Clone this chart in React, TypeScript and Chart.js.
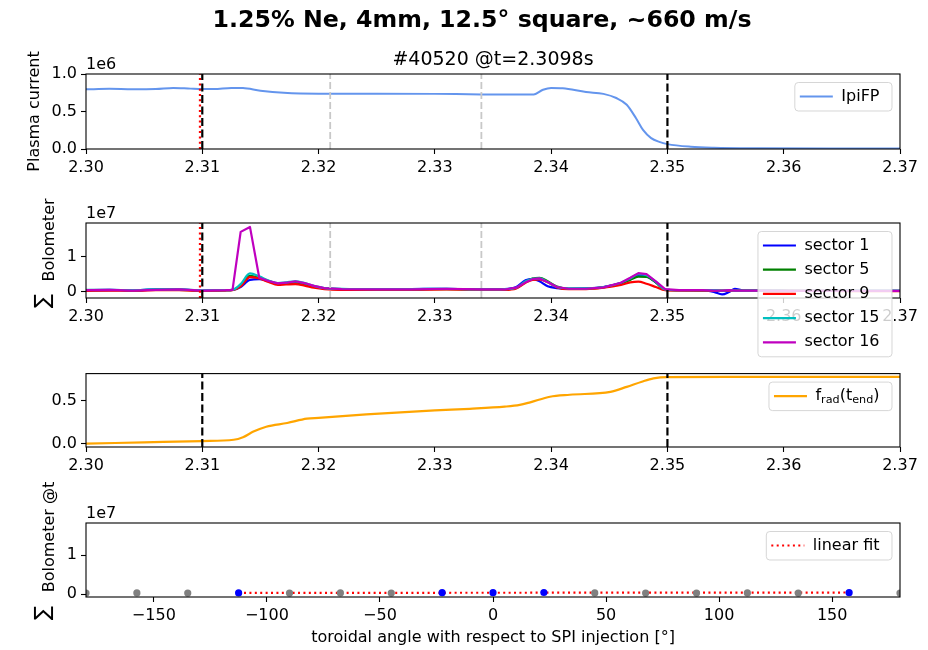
import React, { useEffect, useRef } from "react";
import { Chart, registerables } from "chart.js";

Chart.register(...registerables);

const FONT_FAMILY = "'DejaVu Sans', 'Noto Sans', sans-serif";

// ---------------- figure texts ----------------
const SUPTITLE = "1.25% Ne, 4mm, 12.5° square, ~660 m/s";
const SUBTITLE = "#40520 @t=2.3098s";
const YLABEL_IP = "Plasma current";
const YLABEL_BOLO = "Bolometer";
const YLABEL_BOLO_T = "Bolometer @t";
const XLABEL_ANGLE = "toroidal angle with respect to SPI injection [°]";

// ---------------- time axis ----------------
const TIME_TICKS = [2.3, 2.31, 2.32, 2.33, 2.34, 2.35, 2.36, 2.37];
const TIME_TICK_LABELS = ["2.30", "2.31", "2.32", "2.33", "2.34", "2.35", "2.36", "2.37"];

// time markers
const T_SELECTED = 2.3098;
const T_WINDOW = [2.31, 2.35];
const T_GRAY = [2.321, 2.334];

// ---------------- panel 1 : plasma current (x1e6) ----------------
const IP_TIME = [2.3, 2.302, 2.304, 2.306, 2.3075, 2.309, 2.31, 2.311, 2.3125, 2.3135, 2.315, 2.317, 2.32, 2.325, 2.33, 2.334, 2.3385, 2.3393, 2.34, 2.341, 2.343, 2.3445, 2.3456, 2.3465, 2.3473, 2.3479, 2.3486, 2.3493, 2.35, 2.352, 2.354, 2.358, 2.364, 2.37];
const IP_VALUES = [0.795, 0.802, 0.797, 0.8, 0.815, 0.805, 0.8, 0.8, 0.815, 0.812, 0.778, 0.75, 0.738, 0.738, 0.735, 0.728, 0.727, 0.79, 0.815, 0.81, 0.76, 0.735, 0.68, 0.59, 0.41, 0.255, 0.145, 0.095, 0.065, 0.03, 0.017, 0.01, 0.008, 0.008];
const IP_Y_TICKS = [0, 0.5, 1.0];
const IP_Y_LABELS = ["0.0", "0.5", "1.0"];

// ---------------- panel 2 : bolometer sectors (x1e7) ----------------
const BOLO_TIME = [2.3, 2.302, 2.304, 2.306, 2.308, 2.31, 2.312, 2.3126, 2.3133, 2.3141, 2.3149, 2.3157, 2.3165, 2.3172, 2.318, 2.3188, 2.3196, 2.3205, 2.322, 2.325, 2.328, 2.331, 2.334, 2.336, 2.337, 2.3378, 2.3384, 2.339, 2.3397, 2.3405, 2.3415, 2.343, 2.3445, 2.346, 2.3468, 2.3475, 2.3482, 2.349, 2.3498, 2.351, 2.353, 2.354, 2.3547, 2.3553, 2.3558, 2.3565, 2.358, 2.361, 2.364, 2.367, 2.37];
const SECTOR_1 = [0.05, 0.06, 0.05, 0.07, 0.07, 0.04, 0.05, 0.06, 0.14, 0.34, 0.36, 0.3, 0.24, 0.25, 0.27, 0.22, 0.15, 0.1, 0.08, 0.07, 0.08, 0.09, 0.07, 0.08, 0.14, 0.33, 0.37, 0.3, 0.16, 0.11, 0.09, 0.1, 0.14, 0.25, 0.36, 0.47, 0.44, 0.27, 0.07, 0.05, 0.05, 0.0, -0.07, 0.0, 0.09, 0.04, 0.04, 0.03, 0.03, 0.03, 0.03];
const SECTOR_5 = [0.04, 0.05, 0.05, 0.06, 0.06, 0.04, 0.05, 0.06, 0.18, 0.45, 0.4, 0.31, 0.23, 0.25, 0.27, 0.22, 0.15, 0.1, 0.08, 0.07, 0.08, 0.08, 0.07, 0.07, 0.11, 0.28, 0.38, 0.4, 0.3, 0.15, 0.09, 0.09, 0.13, 0.24, 0.34, 0.43, 0.42, 0.27, 0.06, 0.05, 0.04, 0.04, 0.04, 0.04, 0.04, 0.04, 0.04, 0.03, 0.03, 0.03, 0.03];
const SECTOR_9 = [0.03, 0.04, 0.03, 0.05, 0.05, 0.03, 0.04, 0.05, 0.16, 0.42, 0.38, 0.28, 0.2, 0.21, 0.22, 0.18, 0.12, 0.08, 0.06, 0.06, 0.06, 0.07, 0.06, 0.06, 0.1, 0.26, 0.34, 0.35, 0.27, 0.13, 0.08, 0.08, 0.12, 0.2, 0.27, 0.29, 0.23, 0.14, 0.05, 0.04, 0.04, 0.03, 0.03, 0.03, 0.03, 0.03, 0.03, 0.03, 0.03, 0.02, 0.02];
const SECTOR_15 = [0.06, 0.06, 0.05, 0.07, 0.07, 0.05, 0.05, 0.06, 0.22, 0.52, 0.44, 0.32, 0.25, 0.27, 0.3, 0.25, 0.17, 0.11, 0.09, 0.08, 0.08, 0.09, 0.07, 0.08, 0.12, 0.3, 0.37, 0.38, 0.28, 0.14, 0.1, 0.1, 0.14, 0.26, 0.38, 0.5, 0.47, 0.29, 0.07, 0.05, 0.05, 0.05, 0.04, 0.05, 0.04, 0.04, 0.04, 0.03, 0.03, 0.03, 0.03];
const SECTOR_16 = [0.05, 0.06, 0.04, 0.06, 0.07, 0.04, 0.05, 0.06, 1.69, 1.83, 0.4, 0.31, 0.24, 0.26, 0.3, 0.25, 0.17, 0.11, 0.08, 0.07, 0.07, 0.09, 0.07, 0.07, 0.12, 0.27, 0.36, 0.38, 0.28, 0.14, 0.09, 0.09, 0.13, 0.26, 0.4, 0.53, 0.5, 0.3, 0.08, 0.05, 0.05, 0.04, 0.04, 0.05, 0.04, 0.04, 0.04, 0.03, 0.03, 0.03, 0.03];
const SECTOR_NAMES = ["sector 1", "sector 5", "sector 9", "sector 15", "sector 16"];
const SECTOR_COLORS = ["#0000ff", "#008000", "#ff0000", "#00bfbf", "#bf00bf"];
const BOLO_Y_TICKS = [0, 1];
const BOLO_Y_LABELS = ["0", "1"];

// ---------------- panel 3 : radiated fraction ----------------
const FRAD_TIME = [2.3, 2.305, 2.31, 2.3127, 2.3135, 2.3144, 2.3155, 2.3173, 2.319, 2.32, 2.3241, 2.33, 2.333, 2.336, 2.3373, 2.3382, 2.3399, 2.3416, 2.3451, 2.3465, 2.3478, 2.3488, 2.35, 2.355, 2.37];
const FRAD_VALUES = [0.0, 0.015, 0.03, 0.045, 0.075, 0.14, 0.197, 0.24, 0.29, 0.3, 0.34, 0.386, 0.405, 0.43, 0.45, 0.48, 0.545, 0.568, 0.602, 0.66, 0.72, 0.758, 0.773, 0.775, 0.776];
const FRAD_Y_TICKS = [0, 0.5];
const FRAD_Y_LABELS = ["0.0", "0.5"];

// ---------------- panel 4 : bolometer vs toroidal angle (x1e7) ----------------
const ANGLE_TICKS = [-150, -100, -50, 0, 50, 100, 150];
const ANGLE_TICK_LABELS = ["−150", "−100", "−50", "0", "50", "100", "150"];
const ANGLES_OTHER = [-180, -157.5, -135, -90, -67.5, -45, 45, 67.5, 90, 112.5, 135, 180];
const BOLO_AT_T_OTHER = [0.03, 0.035, 0.03, 0.03, 0.035, 0.03, 0.035, 0.03, 0.03, 0.035, 0.03, 0.03];
const ANGLES_ACTIVE = [-112.5, -22.5, 0, 22.5, 157.5];
const BOLO_AT_T_ACTIVE = [0.035, 0.04, 0.04, 0.045, 0.04];
const FIT_ANGLES = [-112.5, 157.5];
const FIT_VALUES = [0.035, 0.045];

// ---------------- layout ----------------
const W = 928;
const AXIS_LEFT = 86;
const AXIS_RIGHT = 900;

type Frame = { canvasTop: number; canvasH: number; chartTop: number; chartBottom: number; xAxisH: number };
const F1: Frame = { canvasTop: 0, canvasH: 176, chartTop: 74, chartBottom: 149, xAxisH: 27 };
const F2: Frame = { canvasTop: 176, canvasH: 184, chartTop: 223, chartBottom: 298, xAxisH: 27 };
const F3: Frame = { canvasTop: 360, canvasH: 116, chartTop: 373, chartBottom: 447, xAxisH: 27 };
const F4: Frame = { canvasTop: 476, canvasH: 174, chartTop: 523, chartBottom: 597, xAxisH: 53 };

type LegendPart = { text: string; sub?: boolean };
type LegendItem = { parts: LegendPart[]; color: string; width: number; dash?: number[] };
type VLine = { t: number; color: string; dash: number[]; width: number };

const pts = (xs: number[], ys: number[]) => xs.map((x, i) => ({ x, y: ys[i] }));

function drawLegend(chart: any, items: LegendItem[]) {
  const { ctx, chartArea } = chart;
  const main = `16px ${FONT_FAMILY}`;
  const sub = `11.2px ${FONT_FAMILY}`;
  ctx.save();
  const widthOf = (parts: LegendPart[]) =>
    parts.reduce((w, p) => {
      ctx.font = p.sub ? sub : main;
      return w + ctx.measureText(p.text).width;
    }, 0);
  const textW = Math.max(...items.map((it) => widthOf(it.parts)));
  const boxW = 46.5 + textW + 12.5;
  const rowH = 24.2;
  const boxH = (items.length - 1) * rowH + 28.5;
  const x0 = chartArea.right - 8 - boxW;
  const y0 = chartArea.top + 8.5;
  ctx.beginPath();
  if (ctx.roundRect) ctx.roundRect(x0, y0, boxW, boxH, 3.5);
  else ctx.rect(x0, y0, boxW, boxH);
  ctx.fillStyle = "rgba(255,255,255,0.8)";
  ctx.fill();
  ctx.strokeStyle = "rgba(204,204,204,0.8)";
  ctx.lineWidth = 1;
  ctx.stroke();
  items.forEach((it, i) => {
    const cy = y0 + 14 + i * rowH;
    ctx.strokeStyle = it.color;
    ctx.lineWidth = it.width;
    ctx.setLineDash(it.dash || []);
    ctx.beginPath();
    ctx.moveTo(x0 + 5, cy);
    ctx.lineTo(x0 + 38, cy);
    ctx.stroke();
    ctx.setLineDash([]);
    let tx = x0 + 46.5;
    ctx.fillStyle = "#000";
    ctx.textAlign = "left";
    ctx.textBaseline = "middle";
    it.parts.forEach((p) => {
      ctx.font = p.sub ? sub : main;
      ctx.fillText(p.text, tx, p.sub ? cy + 4 : cy);
      tx += ctx.measureText(p.text).width;
    });
  });
  ctx.restore();
}

function drawRotated(ctx: any, text: string, x: number, y: number, font: string) {
  ctx.save();
  ctx.translate(x, y);
  ctx.rotate(-Math.PI / 2);
  ctx.font = font;
  ctx.fillStyle = "#000";
  ctx.textAlign = "center";
  ctx.textBaseline = "alphabetic";
  ctx.fillText(text, 0, 0);
  ctx.restore();
}

type PanelOpts = {
  frame: Frame;
  type: string;
  datasets: any[];
  x: { min: number; max: number; ticks: number[]; labels: string[]; title?: string };
  y: { min: number; max: number; ticks: number[]; labels: string[] };
  offsetText?: string;
  vlines: VLine[];
  legend: LegendItem[];
  extra?: (chart: any, top: number) => void;
};

function buildConfig(o: PanelOpts): any {
  const f = o.frame;
  const padTop = f.chartTop - f.canvasTop;
  const padBottom = f.canvasH - (f.chartBottom - f.canvasTop) - f.xAxisH;
  const tickFont = { family: FONT_FAMILY, size: 16 };
  const grid = { drawOnChartArea: false, drawTicks: true, tickLength: 5, tickColor: "#000", tickWidth: 1.1, color: "#000" };
  return {
    type: o.type,
    data: { datasets: o.datasets },
    options: {
      animation: false,
      responsive: false,
      maintainAspectRatio: false,
      events: [],
      layout: { padding: { top: padTop, bottom: padBottom, left: 0, right: W - AXIS_RIGHT } },
      plugins: { legend: { display: false }, tooltip: { enabled: false }, title: { display: false } },
      scales: {
        x: {
          type: "linear",
          min: o.x.min,
          max: o.x.max,
          afterBuildTicks: (s: any) => {
            s.ticks = o.x.ticks.map((v) => ({ value: v }));
          },
          afterFit: (s: any) => {
            s.height = f.xAxisH;
          },
          ticks: { font: tickFont, color: "#000", padding: 4, maxRotation: 0, minRotation: 0, autoSkip: false, callback: (_v: any, i: number) => o.x.labels[i] },
          grid,
          border: { display: false },
          title: o.x.title
            ? { display: true, text: o.x.title, font: tickFont, color: "#000", padding: { top: 0, bottom: 3 } }
            : { display: false },
        },
        y: {
          type: "linear",
          min: o.y.min,
          max: o.y.max,
          afterBuildTicks: (s: any) => {
            s.ticks = o.y.ticks.map((v) => ({ value: v }));
          },
          afterFit: (s: any) => {
            s.width = AXIS_LEFT;
          },
          ticks: { font: tickFont, color: "#000", padding: 4, autoSkip: false, callback: (_v: any, i: number) => o.y.labels[i] },
          grid,
          border: { display: false },
        },
      },
    },
    plugins: [
      {
        id: "panelDecor",
        afterDatasetsDraw(chart: any) {
          const { ctx, chartArea } = chart;
          o.vlines.forEach((v) => {
            const x = chart.scales.x.getPixelForValue(v.t);
            ctx.save();
            ctx.strokeStyle = v.color;
            ctx.lineWidth = v.width;
            ctx.setLineDash(v.dash);
            ctx.beginPath();
            ctx.moveTo(x, chartArea.bottom);
            ctx.lineTo(x, chartArea.top);
            ctx.stroke();
            ctx.restore();
          });
        },
        afterDraw(chart: any) {
          const { ctx, chartArea } = chart;
          ctx.save();
          ctx.strokeStyle = "#000";
          ctx.lineWidth = 1.1;
          ctx.strokeRect(chartArea.left, chartArea.top, chartArea.right - chartArea.left, chartArea.bottom - chartArea.top);
          ctx.restore();
          if (o.offsetText) {
            ctx.save();
            ctx.font = `16px ${FONT_FAMILY}`;
            ctx.fillStyle = "#000";
            ctx.textAlign = "left";
            ctx.textBaseline = "alphabetic";
            ctx.fillText(o.offsetText, chartArea.left, chartArea.top - 5);
            ctx.restore();
          }
          drawLegend(chart, o.legend);
          if (o.extra) o.extra(chart, f.canvasTop);
        },
      },
    ],
  };
}

const TIME_X = { min: 2.3, max: 2.37, ticks: TIME_TICKS, labels: TIME_TICK_LABELS };
const BLACK_DASH = [8, 3.5];
const VLINES_FULL: VLine[] = [
  { t: T_SELECTED, color: "#ff0000", dash: [2, 3.3], width: 2.2 },
  { t: T_WINDOW[0], color: "#000", dash: BLACK_DASH, width: 2.2 },
  { t: T_WINDOW[1], color: "#000", dash: BLACK_DASH, width: 2.2 },
  { t: T_GRAY[0], color: "#c8c8c8", dash: [7, 3], width: 1.8 },
  { t: T_GRAY[1], color: "#c8c8c8", dash: [7, 3], width: 1.8 },
];
const VLINES_WINDOW: VLine[] = [
  { t: T_WINDOW[0], color: "#000", dash: BLACK_DASH, width: 2.2 },
  { t: T_WINDOW[1], color: "#000", dash: BLACK_DASH, width: 2.2 },
];

const lineDs = (label: string, data: any[], color: string, width: number, order: number, mono = false) => ({
  label,
  data,
  borderColor: color,
  backgroundColor: color,
  borderWidth: width,
  pointRadius: 0,
  tension: 0,
  cubicInterpolationMode: mono ? "monotone" : "default",
  borderJoinStyle: "round",
  borderCapStyle: "round",
  order,
});

function config1() {
  return buildConfig({
    frame: F1,
    type: "line",
    datasets: [lineDs("IpiFP", pts(IP_TIME, IP_VALUES), "#6495ed", 2, 0, true)],
    x: TIME_X,
    y: { min: 0, max: 1.0, ticks: IP_Y_TICKS, labels: IP_Y_LABELS },
    offsetText: "1e6",
    vlines: VLINES_FULL,
    legend: [{ parts: [{ text: "IpiFP" }], color: "#6495ed", width: 2 }],
    extra: (chart, top) => {
      const ctx = chart.ctx;
      ctx.save();
      ctx.fillStyle = "#000";
      ctx.textAlign = "center";
      ctx.textBaseline = "alphabetic";
      ctx.font = `bold 23.7px ${FONT_FAMILY}`;
      ctx.fillText(SUPTITLE, 482, 27 - top);
      ctx.font = `19px ${FONT_FAMILY}`;
      ctx.fillText(SUBTITLE, (AXIS_LEFT + AXIS_RIGHT) / 2, 65 - top);
      ctx.restore();
      drawRotated(ctx, YLABEL_IP, 38.5, 111.5 - top, `16px ${FONT_FAMILY}`);
    },
  });
}

function config2() {
  const series = [SECTOR_1, SECTOR_5, SECTOR_9, SECTOR_15, SECTOR_16];
  return buildConfig({
    frame: F2,
    type: "line",
    datasets: series.map((s, i) => lineDs(SECTOR_NAMES[i], pts(BOLO_TIME, s), SECTOR_COLORS[i], 2.2, 4 - i, i !== 4)),
    x: TIME_X,
    y: { min: -0.17, max: 1.94, ticks: BOLO_Y_TICKS, labels: BOLO_Y_LABELS },
    offsetText: "1e7",
    vlines: VLINES_FULL,
    legend: SECTOR_NAMES.map((n, i) => ({ parts: [{ text: n }], color: SECTOR_COLORS[i], width: 2.2 })),
    extra: (chart, top) => {
      drawRotated(chart.ctx, YLABEL_BOLO, 54, 240 - top, `16px ${FONT_FAMILY}`);
      drawRotated(chart.ctx, "∑", 49, 301 - top, `21px ${FONT_FAMILY}`);
    },
  });
}

function config3() {
  return buildConfig({
    frame: F3,
    type: "line",
    datasets: [lineDs("frad", pts(FRAD_TIME, FRAD_VALUES), "#ffa500", 2.2, 0, true)],
    x: TIME_X,
    y: { min: -0.039, max: 0.814, ticks: FRAD_Y_TICKS, labels: FRAD_Y_LABELS },
    vlines: VLINES_WINDOW,
    legend: [
      {
        parts: [{ text: "f" }, { text: "rad", sub: true }, { text: "(t" }, { text: "end", sub: true }, { text: ")" }],
        color: "#ffa500",
        width: 2.2,
      },
    ],
  });
}

function config4() {
  return buildConfig({
    frame: F4,
    type: "scatter",
    datasets: [
      {
        label: "active sectors",
        data: pts(ANGLES_ACTIVE, BOLO_AT_T_ACTIVE),
        backgroundColor: "#0000ff",
        borderColor: "#0000ff",
        borderWidth: 0,
        pointRadius: 3.6,
        showLine: false,
        order: 0,
      },
      {
        label: "other sectors",
        data: pts(ANGLES_OTHER, BOLO_AT_T_OTHER),
        backgroundColor: "#808080",
        borderColor: "#808080",
        borderWidth: 0,
        pointRadius: 3.6,
        showLine: false,
        order: 1,
      },
      {
        label: "linear fit",
        data: pts(FIT_ANGLES, FIT_VALUES),
        borderColor: "#ff0000",
        backgroundColor: "#ff0000",
        borderWidth: 2.2,
        borderDash: [2, 3.4],
        pointRadius: 0,
        showLine: true,
        order: 2,
      },
    ],
    x: { min: -180, max: 180, ticks: ANGLE_TICKS, labels: ANGLE_TICK_LABELS, title: XLABEL_ANGLE },
    y: { min: -0.07, max: 1.83, ticks: BOLO_Y_TICKS, labels: BOLO_Y_LABELS },
    offsetText: "1e7",
    vlines: [],
    legend: [{ parts: [{ text: "linear fit" }], color: "#ff0000", width: 2.2, dash: [2, 3.4] }],
    extra: (chart, top) => {
      drawRotated(chart.ctx, YLABEL_BOLO_T, 54, 537 - top, `16px ${FONT_FAMILY}`);
      drawRotated(chart.ctx, "∑", 49, 613 - top, `21px ${FONT_FAMILY}`);
    },
  });
}

export default function App() {
  const r1 = useRef<HTMLCanvasElement>(null);
  const r2 = useRef<HTMLCanvasElement>(null);
  const r3 = useRef<HTMLCanvasElement>(null);
  const r4 = useRef<HTMLCanvasElement>(null);

  useEffect(() => {
    const charts = [
      new Chart(r1.current as HTMLCanvasElement, config1()),
      new Chart(r2.current as HTMLCanvasElement, config2()),
      new Chart(r3.current as HTMLCanvasElement, config3()),
      new Chart(r4.current as HTMLCanvasElement, config4()),
    ];
    return () => charts.forEach((c) => c.destroy());
  }, []);

  const cv = (f: Frame) => ({ position: "absolute" as const, left: 0, top: f.canvasTop, width: W, height: f.canvasH });

  return (
    <div style={{ position: "fixed", left: 0, top: 0, width: W, height: 650, background: "#fff", overflow: "hidden" }}>
      <canvas ref={r1} width={W} height={F1.canvasH} style={cv(F1)} />
      <canvas ref={r2} width={W} height={F2.canvasH} style={cv(F2)} />
      <canvas ref={r3} width={W} height={F3.canvasH} style={cv(F3)} />
      <canvas ref={r4} width={W} height={F4.canvasH} style={cv(F4)} />
    </div>
  );
}
